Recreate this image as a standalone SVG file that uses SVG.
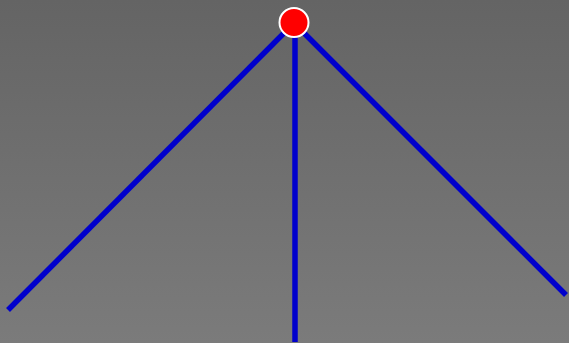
<svg xmlns="http://www.w3.org/2000/svg" width="569" height="343" viewBox="0 0 569 343">
  <defs>
    <linearGradient id="bg" x1="0" y1="0" x2="0" y2="1">
      <stop offset="0" stop-color="#646464"/>
      <stop offset="1" stop-color="#7b7b7b"/>
    </linearGradient>
    <style>
      .edge { stroke: #0000cc; stroke-width: 5.5; fill: none; }
      .node { fill: #ff0000; stroke: #ffffff; stroke-width: 2; }
    </style>
  </defs>
  <rect x="0" y="0" width="569" height="343" fill="url(#bg)"/>
  <g id="connectors">
    <line class="edge" x1="294" y1="23" x2="8" y2="310"/>
    <line class="edge" x1="295" y1="23" x2="295" y2="342"/>
    <line class="edge" x1="294" y1="23" x2="566" y2="295"/>
  </g>
  <g id="root">
    <circle class="node" cx="294" cy="22.5" r="14.5"/>
  </g>
</svg>
